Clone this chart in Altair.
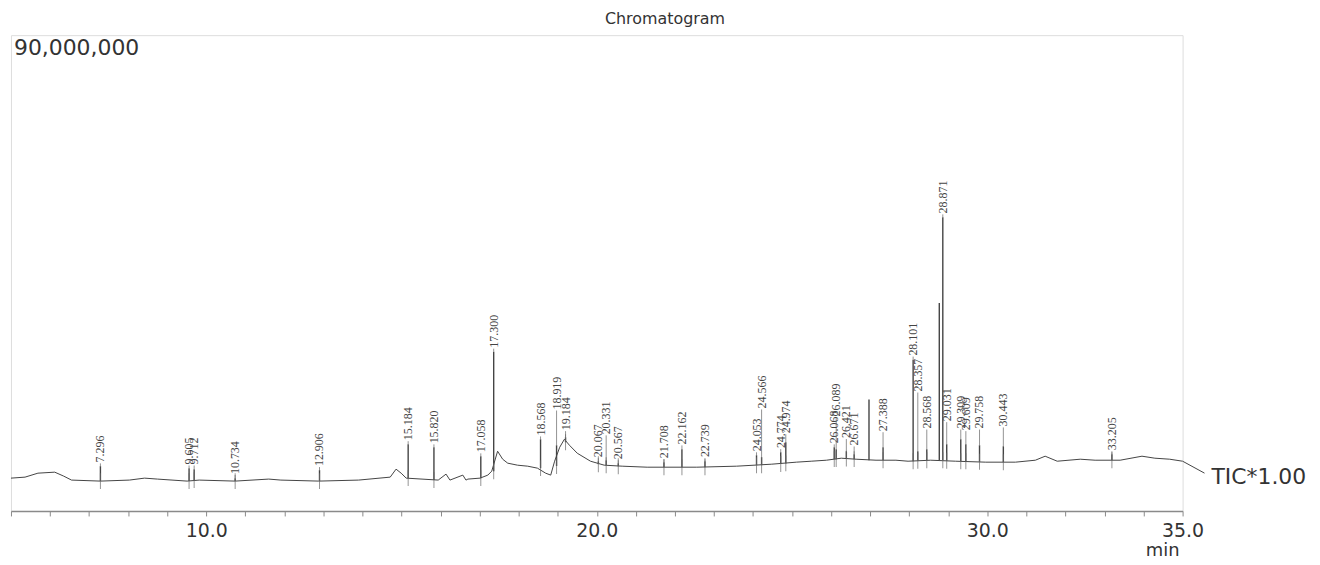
import altair as alt
import pandas as pd

# ---- baseline trace (retention time [min], intensity [millions]) ----
BASE_T = [5.00, 5.36, 5.69, 6.12, 6.35, 6.55, 7.29, 8.03, 8.42, 8.75, 9.51, 9.82,
          10.74, 11.60, 11.91, 12.88, 13.90, 14.71, 14.86, 14.99, 15.12, 15.94,
          16.14, 16.24, 16.57, 16.65, 16.70, 17.01, 17.21, 17.31, 17.46, 17.59,
          17.72, 17.97, 18.23, 18.48, 18.69, 18.82, 18.92, 19.05, 19.17, 19.30,
          19.50, 19.84, 20.19, 20.65, 21.29, 22.56, 23.58, 24.48, 25.11, 25.49,
          25.88, 26.26, 26.64, 27.15, 27.66, 27.97, 28.55, 29.19, 29.96, 30.72,
          31.23, 31.48, 31.79, 32.38, 32.76, 33.40, 33.96, 34.29, 34.67, 35.00]
BASE_I = [6.21, 6.40, 7.15, 7.34, 6.59, 5.84, 5.65, 5.84, 6.21, 6.03, 5.65, 5.84,
          5.65, 6.03, 5.84, 5.65, 5.84, 6.40, 7.91, 7.15, 6.21, 5.84,
          6.97, 5.84, 6.78, 5.84, 6.03, 6.21, 6.78, 7.53, 11.30, 9.79,
          9.04, 8.66, 8.47, 8.10, 7.15, 6.78, 9.41, 12.05, 13.56, 12.43,
          10.92, 9.41, 8.66, 8.47, 8.28, 8.28, 8.47, 8.85, 9.23, 9.41,
          9.60, 9.98, 9.79, 9.60, 9.60, 9.41, 9.60, 9.41, 9.23, 9.23,
          9.60, 10.36, 9.41, 9.79, 9.60, 9.60, 10.36, 9.98, 9.79, 9.41]

# ---- peaks ----
PEAK_T = [7.29, 9.56, 9.69, 10.74, 12.90, 15.17, 15.83, 17.03, 17.36, 18.56,
          18.97, 19.20, 20.04, 20.24, 20.55, 21.72, 22.18, 22.77, 24.09, 24.22,
          24.71, 24.84, 26.08, 26.13, 26.39, 26.59, 26.97, 27.33, 28.10, 28.22,
          28.45, 28.77, 28.86, 28.96, 29.32, 29.45, 29.80, 30.41, 33.19]
PEAK_BASE = [5.65, 5.65, 5.84, 5.65, 5.65, 6.21, 5.84, 6.21, 7.50, 8.10,
             8.50, 13.00, 8.85, 8.66, 8.47, 8.28, 8.28, 8.28, 8.66, 8.66,
             8.90, 9.00, 9.80, 9.80, 9.90, 9.80, 9.60, 9.60, 9.41, 9.50,
             9.60, 9.60, 9.60, 9.50, 9.40, 9.40, 9.30, 9.23, 9.60]
PEAK_APEX = [8.47, 8.10, 7.91, 6.21, 7.72, 12.61, 12.05, 10.36, 30.12, 13.56,
             12.43, 13.93, 9.41, 9.60, 9.04, 9.23, 11.67, 9.41, 10.54, 10.17,
             11.11, 12.99, 12.05, 11.67, 11.30, 10.73, 21.09, 12.05, 28.62, 11.30,
             11.67, 39.35, 55.54, 12.61, 13.56, 12.61, 12.43, 12.24, 10.73]
LABEL_AT = [9.00, 8.60, 8.60, 6.80, 8.30, 13.20, 12.60, 10.90, 30.70, 14.10,
            19.00, 15.10, 9.98, 14.30, 9.60, 9.80, 12.40, 10.00, 11.10, 19.20,
            11.70, 14.50, 12.60, 17.70, 13.60, 12.20, 21.09, 14.90, 29.20, 22.40,
            15.40, 39.35, 56.10, 16.80, 15.40, 15.10, 15.40, 15.80, 11.30]
PEAK_TEXT = ["7.296", "9.605", "9.712", "10.734", "12.906", "15.184", "15.820",
             "17.058", "17.300", "18.568", "18.919", "19.184", "20.067", "20.331",
             "20.567", "21.708", "22.162", "22.739", "24.053", "24.566", "24.774",
             "24.974", "26.068", "26.089", "26.421", "26.671", "", "27.388",
             "28.101", "28.357", "28.568", "", "28.871", "29.031", "29.309",
             "29.609", "29.758", "30.443", "33.205"]

LABELED_TICKS = [10, 20, 30, 35]
MINOR_TICKS = list(range(5, 36))

base_df = pd.DataFrame({"t": BASE_T, "i": BASE_I})
peak_df = pd.DataFrame({"t": PEAK_T, "base": PEAK_BASE, "apex": PEAK_APEX,
                        "lab": LABEL_AT, "text": PEAK_TEXT})
lab_df = peak_df[peak_df["text"] != ""]
one = alt.Data(values=[{"a": 0}])

xscale = alt.Scale(domain=[5, 35], nice=False, zero=False)
yscale = alt.Scale(domain=[0, 90], nice=False, zero=False)
cond = " || ".join(f"datum.value == {v}" for v in LABELED_TICKS)
xaxis = alt.Axis(values=MINOR_TICKS, labelExpr=f"({cond}) ? format(datum.value, '.1f') : ''",
                 title=None, grid=False, tickSize=5, tickColor="#8a8a8a",
                 domainColor="#8a8a8a", domainWidth=1.5, labelFont="DejaVu Sans",
                 labelFontSize=19, labelColor="#333", labelPadding=6, labelFlush=False)

line_col = "#444444"

trace = alt.Chart(base_df).mark_line(color=line_col, strokeWidth=1).encode(
    x=alt.X("t:Q", scale=xscale, axis=xaxis),
    y=alt.Y("i:Q", scale=yscale, axis=None),
)
peaks = alt.Chart(peak_df).mark_rule(color=line_col, strokeWidth=1.4).encode(
    x=alt.X("t:Q", scale=xscale, axis=xaxis),
    y=alt.Y("base:Q", scale=yscale, axis=None),
    y2="apex:Q",
)
leaders = alt.Chart(lab_df).mark_rule(color="#777", strokeWidth=0.8).encode(
    x=alt.X("t:Q", scale=xscale, axis=xaxis),
    y=alt.Y("apex:Q", scale=yscale, axis=None),
    y2="lab:Q",
)
markers = alt.Chart(lab_df).mark_tick(orient="vertical", size=16, thickness=1,
                                       color="#666").encode(
    x=alt.X("t:Q", scale=xscale, axis=xaxis),
    y=alt.Y("base:Q", scale=yscale, axis=None),
)
labels = alt.Chart(lab_df).mark_text(angle=270, align="left", baseline="middle",
                                     font="Liberation Serif", fontSize=12,
                                     color="#444", dx=1).encode(
    x=alt.X("t:Q", scale=xscale, axis=xaxis),
    y=alt.Y("lab:Q", scale=yscale, axis=None),
    text="text:N",
)

title = alt.Chart(one).mark_text(font="DejaVu Sans", fontSize=16, color="#333",
                                 align="center", baseline="middle").encode(
    x=alt.value(657), y=alt.value(-16), text=alt.value("Chromatogram"))
ymax = alt.Chart(one).mark_text(font="DejaVu Sans", fontSize=22, color="#333",
                                align="left", baseline="middle").encode(
    x=alt.value(3), y=alt.value(13), text=alt.value("90,000,000"))
tic = alt.Chart(one).mark_text(font="DejaVu Sans", fontSize=22, color="#333",
                               align="left", baseline="middle").encode(
    x=alt.value(1206), y=alt.value(444), text=alt.value("TIC*1.00"))
tic_lead = alt.Chart(one).mark_rule(color=line_col, strokeWidth=1).encode(
    x=alt.value(1177), y=alt.value(428), x2=alt.value(1199), y2=alt.value(440))
minlab = alt.Chart(one).mark_text(font="DejaVu Sans", fontSize=18, color="#333",
                                  align="center", baseline="middle").encode(
    x=alt.value(1157), y=alt.value(518), text=alt.value("min"))

chart = alt.layer(trace, peaks, leaders, markers, labels, title, ymax, tic,
                  tic_lead, minlab).properties(
    width=1177, height=478,
    padding={"left": 3, "top": 26, "right": 130, "bottom": 52},
    autosize=alt.AutoSizeParams(type="none"),
).configure_view(stroke="#999999", strokeWidth=2).configure(background="white")

chart.save("out.html", embed_options={"renderer": "svg", "actions": False})
